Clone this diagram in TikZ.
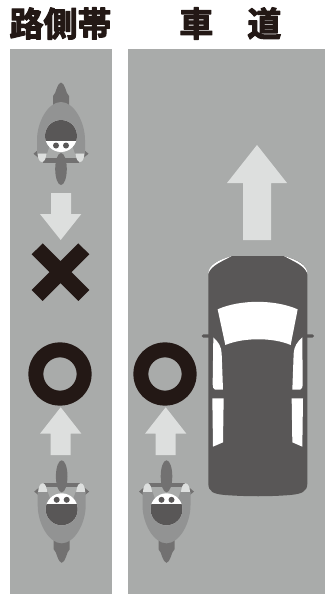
\documentclass[tikz,border=0pt]{standalone}
\usepackage{fontspec}
\newfontfamily\cjkbold[FakeBold=3.2]{Noto Sans CJK JP Bold}
\definecolor{roadgray}{HTML}{A9ABAA}
\definecolor{arrowgray}{HTML}{DDDFDE}
\definecolor{cardark}{HTML}{595757}
\definecolor{bodygray}{HTML}{929393}
\definecolor{partgray}{HTML}{727171}
\definecolor{inkblack}{HTML}{231815}
\tikzset{
	heading/.style={font=\cjkbold\fontsize{34pt}{34pt}\selectfont, text=inkblack, inner sep=0pt},
	road/.style={fill=roadgray, draw=none},
	uparrow/.style={fill=arrowgray, draw=none},
	pics/bike/.style={code={
		\fill[partgray] (-8,30) -- (-8,40) .. controls (-6,42) and (-5.5,44) .. (-4.5,47)
			.. controls (-3,51) and (-1.5,53.5) .. (0,53.5)
			.. controls (1.5,53.5) and (3,51) .. (4.5,47)
			.. controls (5.5,44) and (6,42) .. (8,40) -- (8,30) -- cycle;
		\fill[partgray] (-18,-26.5) rectangle (18,-22);
		\fill[partgray] (-27.5,-17.7) -- (-23,-21.5) -- (-23,-14) -- cycle;
		\fill[partgray] (27.5,-17.7) -- (23,-21.5) -- (23,-14) -- cycle;
		\fill[partgray] (0,-33) ellipse (5.8 and 16);
		\fill[bodygray] (-14,-17.5) -- (-24,-17.5) -- (-24,-4)
			.. controls (-24,14) and (-13,34) .. (0,34)
			.. controls (13,34) and (24,14) .. (24,-4)
			-- (24,-17.5) -- (14,-17.5) -- (11,-9) -- (-11,-9) -- cycle;
		\fill[arrowgray] (-19,-26) .. controls (-22,-26) and (-23,-22) .. (-23.5,-17.5) -- (-14.5,-17.5) .. controls (-15,-21) and (-16,-26) .. (-19,-26) -- cycle;
		\fill[arrowgray] (19,-26) .. controls (22,-26) and (23,-22) .. (23.5,-17.5) -- (14.5,-17.5) .. controls (15,-21) and (16,-26) .. (19,-26) -- cycle;
		\fill[white] (0,0) circle (16);
		\begin{scope}
			\clip (-17,-4.5) rectangle (17,17);
			\fill[cardark] (0,0) circle (16);
		\end{scope}
		\fill[cardark] (-5,-9.5) circle (3) (5,-9.5) circle (3);
	}}
}
\begin{document}
\begin{tikzpicture}[x=1pt, y=-1pt, line join=round, line cap=round]
	\useasboundingbox (0,0) rectangle (325,594);
	\fill[white] (0,0) rectangle (325,594);
	% headings
	\node[heading] (sideway) at (60.5,23.5) {路側帯};
	\node[heading] (roadway) at (230.3,23.5) {車\hspace{1em}道};
	% road strips
	\path[road] (10,49) rectangle (112,594);
	\path[road] (128,49) rectangle (325,594);
	% arrows
	\path[uparrow] (60.7,240) -- (40,214) -- (51,214) -- (51,193) -- (71,193) -- (71,214) -- (81.3,214) -- cycle;
	\foreach \cx in {60.7,165.7}
	{\path[uparrow] (\cx,407.3) -- (\cx-20.7,433.7) -- (\cx-10,433.7) -- (\cx-10,455) -- (\cx+10,455) -- (\cx+10,433.7) -- (\cx+20.7,433.7) -- cycle;}
	\path[uparrow] (257,145) -- (227,183) -- (243,183) -- (243,240) -- (271,240) -- (271,183) -- (287,183) -- cycle;
	% cross
	\draw[inkblack, line width=15.5pt, line cap=butt] (37.2,248.8) -- (83.8,295.5) (83.8,248.8) -- (37.2,295.5);
	% circles
	\foreach \cx in {60,165}
	{\draw[inkblack, line width=15pt] (\cx,374) circle (24.2);}
	% bikes
	\pic at (61,136) [rotate=180] {bike};
	\pic at (61.7,509.3) {bike};
	\pic at (166.5,509.3) {bike};
	% car
	\begin{scope}[shift={(190,240)}, scale=1/3]
		\fill[cardark, rounded corners=1.5pt] (35,283) rectangle (372,293);
		\fill[cardark] (125,48) -- (282,48) .. controls (320,60) and (352,70) .. (352,105)
			-- (352,730) .. controls (352,755) and (335,762) .. (300,765)
			.. controls (240,770) and (170,770) .. (105,765)
			.. controls (70,762) and (55,755) .. (55,730) -- (55,105)
			.. controls (55,70) and (90,60) .. cycle;
		\fill[white] (55,100) .. controls (56,75) and (85,60) .. (125,48) .. controls (95,65) and (65,75) .. cycle;
		\fill[white] (352,100) .. controls (351,75) and (322,60) .. (282,48) .. controls (312,65) and (342,75) .. cycle;
		\fill[white] (83,208) .. controls (150,178) and (255,178) .. (323,208)
			-- (302,315) .. controls (250,292) and (160,292) .. (106,315) -- cycle;
		\fill[white] (70,292) .. controls (85,305) and (94,320) .. (95,340) -- (99,449) -- (75,449) .. controls (70,449) and (68,440) .. (68,430) -- cycle;
		\fill[white] (337,292) .. controls (322,305) and (312,320) .. (311,340) -- (307,449) -- (331,449) .. controls (336,449) and (338,440) .. (338,430) -- cycle;
		\fill[white] (67,475) -- (101,475) -- (99,607) -- (69,620) -- cycle;
		\fill[white] (339,475) -- (305,475) -- (307,607) -- (337,620) -- cycle;
	\end{scope}
\end{tikzpicture}
\end{document}
